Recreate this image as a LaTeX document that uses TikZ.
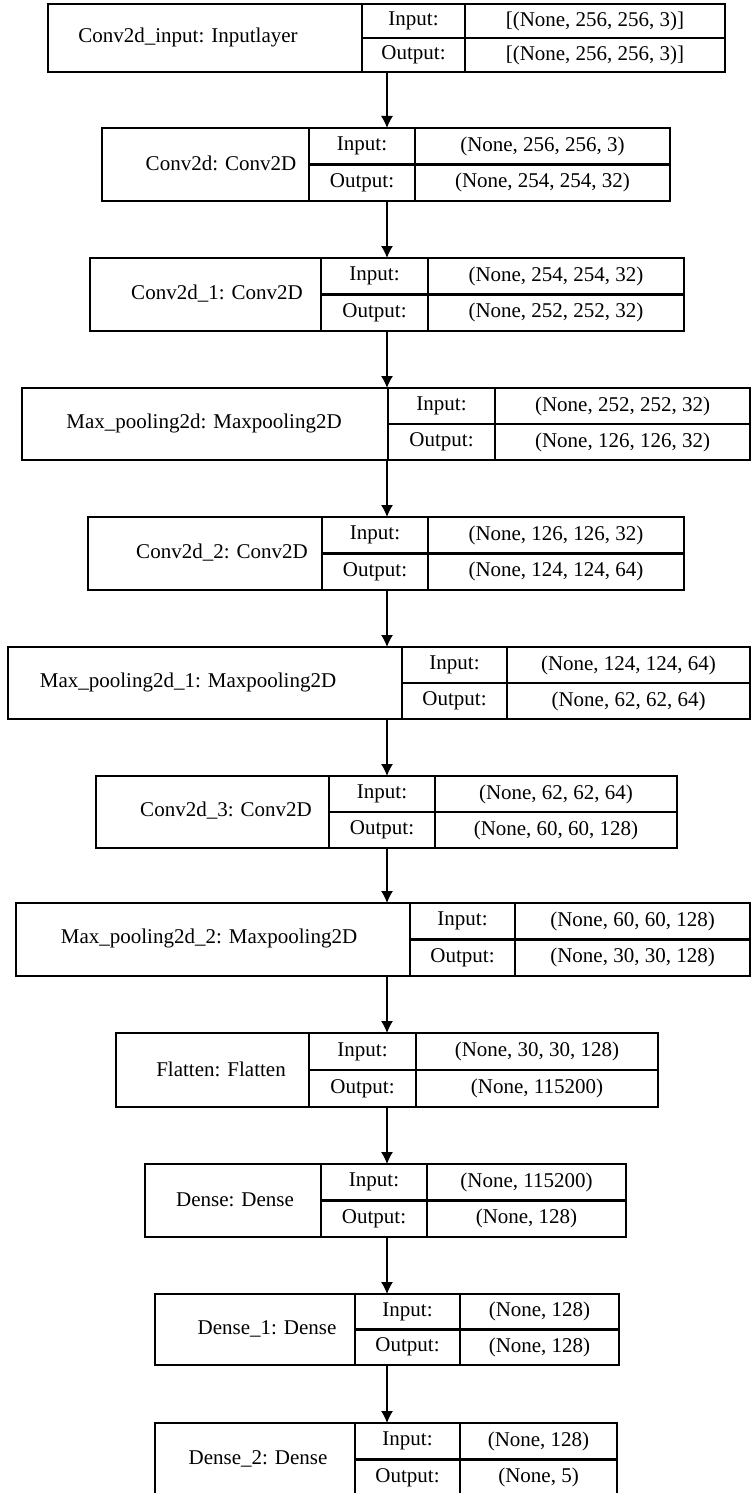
\documentclass[tikz,border=0pt]{standalone}
\usepackage{fontspec}
\setmainfont{Liberation Serif}
\usetikzlibrary{arrows.meta}
\def\lyparse#1,#2,#3,#4,#5,#6\relax{\def\lyL{#1}\def\lyDa{#2}\def\lyDb{#3}\def\lyR{#4}\def\lyLX{#5}\def\lyH{#6}}
\newcommand\layerbox[6]{%
  \lyparse#3\relax
  \node[lbox, minimum width={(\lyR-\lyL)*1pt}, minimum height={\lyH*1pt}, anchor=north west] (#1) at (\lyL,#2) {};
  \draw[divline] (\lyDa,#2) -- (\lyDa,{#2+\lyH});
  \draw[divline] (\lyDb,#2) -- (\lyDb,{#2+\lyH});
  \draw[divline] (\lyDa,{#2+\lyH/2}) -- (\lyR,{#2+\lyH/2});
  \node[txt] (#1-name) at (\lyLX,{#2+\lyH/2-1}) {#4};
  \node[txt] (#1-inl) at ({(\lyDa+\lyDb)/2},{#2+\lyH/4}) {Input:};
  \node[txt] (#1-outl) at ({(\lyDa+\lyDb)/2},{#2+3*\lyH/4}) {Output:};
  \node[txt] (#1-inv) at ({(\lyDb+\lyR)/2},{#2+\lyH/4}) {#5};
  \node[txt] (#1-outv) at ({(\lyDb+\lyR)/2},{#2+3*\lyH/4}) {#6};
}
\begin{document}
\begin{tikzpicture}[x=1pt,y=-1pt,
  lbox/.style={draw, line width=2.3pt, inner sep=0pt, outer sep=0pt, fill=white},
  divline/.style={line width=2.1pt},
  txt/.style={inner sep=0pt, font=\fontsize{21}{24}\selectfont},
  arr/.style={line width=1.2pt, -{Latex[length=12pt,width=12pt]}}]
\clip (0,0) rectangle (752,1493);
\fill[white] (0,0) rectangle (752,1493);
\coordinate (ax) at (387,0);
\layerbox{b1}{4}{48,362,465,725,188,68}{Conv2d\_input: Inputlayer}{[(None, 256, 256, 3)]}{[(None, 256, 256, 3)]}
\layerbox{b2}{128}{102,309,415,670,221,73}{Conv2d: Conv2D}{(None, 256, 256, 3)}{(None, 254, 254, 32)}
\layerbox{b3}{258}{90,321,428,684,217,73}{Conv2d\_1: Conv2D}{(None, 254, 254, 32)}{(None, 252, 252, 32)}
\layerbox{b4}{388}{22,388,495,750,204,72}{Max\_pooling2d: Maxpooling2D}{(None, 252, 252, 32)}{(None, 126, 126, 32)}
\layerbox{b5}{517}{88,322,428,684,222,73}{Conv2d\_2: Conv2D}{(None, 126, 126, 32)}{(None, 124, 124, 64)}
\layerbox{b6}{647}{8,402,507,750,188,72}{Max\_pooling2d\_1: Maxpooling2D}{(None, 124, 124, 64)}{(None, 62, 62, 64)}
\layerbox{b7}{776}{96,329,435,677,226,72}{Conv2d\_3: Conv2D}{(None, 62, 62, 64)}{(None, 60, 60, 128)}
\layerbox{b8}{903}{16,410,515,750,209,73}{Max\_pooling2d\_2: Maxpooling2D}{(None, 60, 60, 128)}{(None, 30, 30, 128)}
\layerbox{b9}{1033}{116,309,416,658,221,74}{Flatten: Flatten}{(None, 30, 30, 128)}{(None, 115200)}
\layerbox{b10}{1164}{145,321,427,626,235,73}{Dense: Dense}{(None, 115200)}{(None, 128)}
\layerbox{b11}{1294}{155,355,460,619,267,71}{Dense\_1: Dense}{(None, 128)}{(None, 128)}
\layerbox{b12}{1423}{155,355,460,617,258,73}{Dense\_2: Dense}{(None, 128)}{(None, 5)}
\foreach \a/\b in {b1/b2,b2/b3,b3/b4,b4/b5,b5/b6,b6/b7,b7/b8,b8/b9,b9/b10,b10/b11,b11/b12}
  \draw[arr] (\a.south -| ax) -- (\b.north -| ax);
\end{tikzpicture}
\end{document}
